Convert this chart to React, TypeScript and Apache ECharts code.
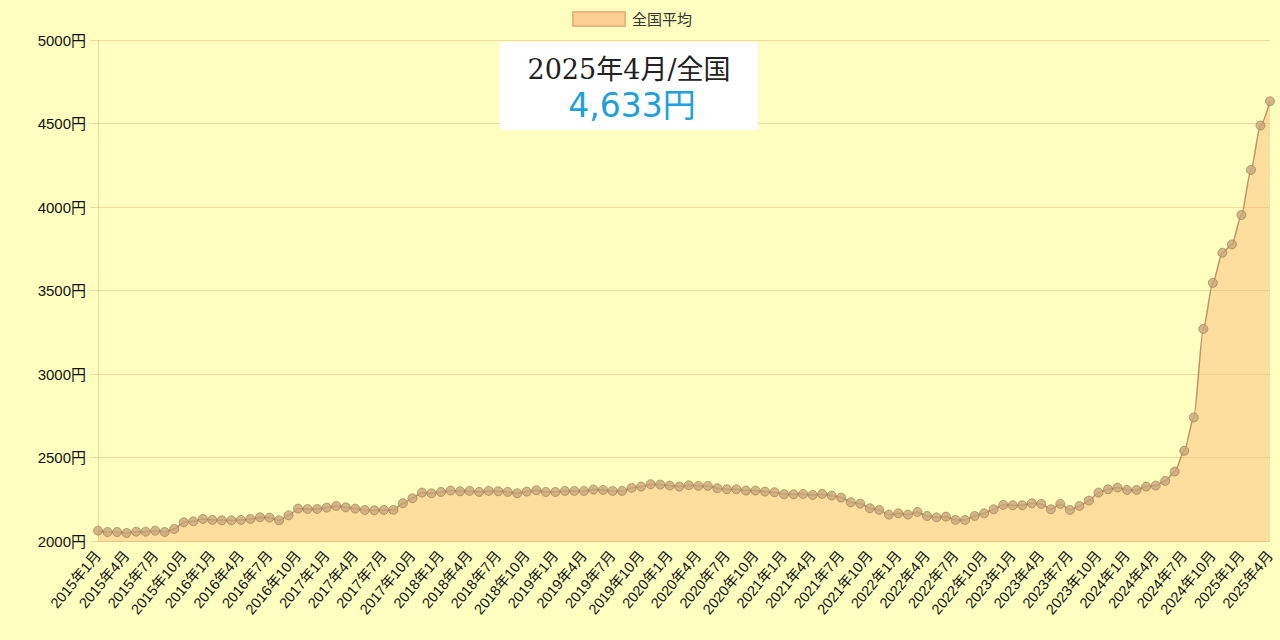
import React, { useEffect, useRef } from "react";
import * as echarts from "echarts";

const years = [2015, 2016, 2017, 2018, 2019, 2020, 2021, 2022, 2023, 2024, 2025];
const lastYearMonths = 4;

const v2015 = [2062, 2054, 2054, 2048, 2056, 2056, 2062, 2054, 2072, 2112, 2118, 2132];
const v2016 = [2126, 2124, 2124, 2126, 2132, 2142, 2140, 2124, 2154, 2194, 2192, 2192];
const v2017 = [2200, 2210, 2202, 2194, 2186, 2184, 2186, 2186, 2226, 2256, 2290, 2286];
const v2018 = [2294, 2302, 2298, 2300, 2294, 2300, 2298, 2294, 2286, 2296, 2304, 2294];
const v2019 = [2294, 2300, 2300, 2300, 2308, 2306, 2300, 2300, 2318, 2326, 2340, 2338];
const v2020 = [2332, 2326, 2334, 2330, 2330, 2316, 2310, 2310, 2302, 2302, 2296, 2292];
const v2021 = [2280, 2280, 2282, 2276, 2282, 2272, 2260, 2232, 2224, 2196, 2186, 2158];
const v2022 = [2166, 2158, 2174, 2150, 2142, 2146, 2126, 2126, 2150, 2166, 2190, 2216];
const v2023 = [2214, 2214, 2226, 2222, 2190, 2222, 2186, 2210, 2242, 2290, 2310, 2320];
const v2024 = [2306, 2306, 2326, 2332, 2360, 2416, 2540, 2740, 3270, 3546, 3726, 3776];
const v2025 = [3952, 4222, 4488, 4633];

const values = [
  ...v2015, ...v2016, ...v2017, ...v2018, ...v2019, ...v2020,
  ...v2021, ...v2022, ...v2023, ...v2024, ...v2025,
];

const categories: string[] = [];
years.forEach((y, yi) => {
  const n = yi === years.length - 1 ? lastYearMonths : 12;
  for (let m = 1; m <= n; m++) categories.push(`${y}年${m}月`);
});

const seriesName = "全国平均";
const headline = "2025年4月/全国";
const headlineValue = "4,633円";

const yMin = 2000;
const yMax = 5000;
const yInterval = 500;

export default function App() {
  const ref = useRef<HTMLDivElement>(null);
  useEffect(() => {
    if (!ref.current) return;
    const chart = echarts.init(ref.current, null, { renderer: "svg" });
    const gridColor = "rgba(225,170,110,0.45)";
    const font = "'Liberation Sans', 'Noto Sans CJK JP', sans-serif";
    chart.setOption({
      animation: false,
      backgroundColor: "#ffffc0",
      grid: { left: 98, right: 10, top: 40, bottom: 99, containLabel: false },
      legend: {
        top: 11,
        left: 572,
        padding: 0,
        icon: "rect",
        itemWidth: 52,
        itemHeight: 14,
        itemGap: 10,
        textStyle: { fontFamily: font, fontSize: 15, color: "#333", padding: [0, 0, 0, 2] },
        itemStyle: { color: "rgba(251,195,135,0.8)", borderColor: "rgba(235,180,130,1)", borderWidth: 2 },
        data: [seriesName],
      },
      xAxis: {
        type: "category",
        boundaryGap: false,
        data: categories,
        axisLine: { show: true, lineStyle: { color: gridColor } },
        axisTick: { show: false },
        splitLine: { show: false },
        axisLabel: {
          interval: 2,
          rotate: 50,
          margin: 12,
          fontFamily: font,
          fontSize: 14.5,
          color: "#111",
        },
      },
      yAxis: {
        type: "value",
        min: yMin,
        max: yMax,
        interval: yInterval,
        axisLine: { show: true, lineStyle: { color: gridColor } },
        axisTick: { show: true, length: 8, lineStyle: { color: gridColor } },
        splitLine: { show: true, lineStyle: { color: gridColor, width: 1 } },
        axisLabel: {
          margin: 12,
          fontFamily: font,
          fontSize: 15,
          color: "#111",
          formatter: (v: number) => `${v}円`,
        },
      },
      series: [
        {
          name: seriesName,
          type: "line",
          data: values,
          smooth: 0.25,
          smoothMonotone: "x",
          symbol: "circle",
          symbolSize: 9,
          showSymbol: true,
          showAllSymbol: true,
          lineStyle: { color: "rgba(180,140,95,0.9)", width: 1.5 },
          itemStyle: {
            color: "rgba(200,165,120,0.8)",
            borderColor: "rgba(150,115,75,0.6)",
            borderWidth: 1,
          },
          areaStyle: { color: "rgba(251,188,125,0.7)" },
        },
      ],
      graphic: [
        {
          type: "rect",
          left: 500,
          top: 42,
          shape: { width: 258, height: 88 },
          style: { fill: "#ffffff" },
          z: 10,
        },
        {
          type: "text",
          x: 629,
          y: 69,
          z: 11,
          style: {
            text: headline,
            fill: "#222",
            font: "27px 'DejaVu Serif', 'Noto Sans CJK JP', serif",
            align: "center",
            verticalAlign: "middle",
          },
        },
        {
          type: "text",
          x: 632,
          y: 105,
          z: 11,
          style: {
            text: headlineValue,
            fill: "#1ea0dc",
            font: "33px 'DejaVu Sans', 'Noto Sans CJK JP', sans-serif",
            align: "center",
            verticalAlign: "middle",
          },
        },
      ],
    });
    return () => chart.dispose();
  }, []);
  return (
    <div
      ref={ref}
      style={{ position: "fixed", left: 0, top: 0, width: 1280, height: 640 }}
    />
  );
}
